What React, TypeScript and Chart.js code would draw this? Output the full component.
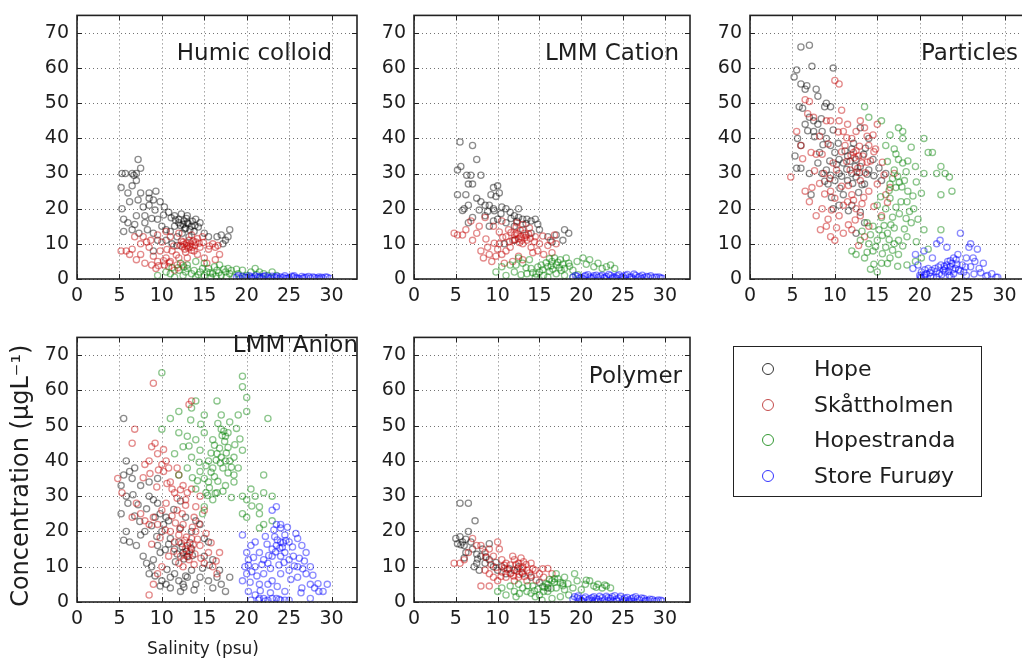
import React, { useEffect, useRef } from 'react';
import { Chart, registerables } from 'chart.js';
Chart.register(...registerables);

type P = [number, number];

const seriesNames = ['Hope', 'Skåttholmen', 'Hopestranda', 'Store Furuøy'];
const seriesColors = ['rgba(0,0,0,0.45)', 'rgba(195,0,0,0.45)', 'rgba(0,128,0,0.45)', 'rgba(0,0,255,0.45)'];
const legendColors = ['rgba(0,0,0,0.8)', 'rgba(180,30,30,0.8)', 'rgba(0,128,0,0.8)', 'rgba(0,0,255,0.8)'];
const xTicks = [0, 5, 10, 15, 20, 25, 30];
const yTicks = [0, 10, 20, 30, 40, 50, 60, 70];
const xMax = 33;
const yMax = 75;
const panelTitles = ['Humic colloid', 'LMM Cation', 'Particles', 'LMM Anion', 'Polymer'];
const xAxisTitle = 'Salinity (psu)';
const yAxisTitle = 'Concentration (µgL⁻¹)';

// ---------- Humic colloid ----------
const humicHope: P[] = [[7.2,34],[5.3,30],[5.7,30],[6.5,30],[7,30],[7.5,31.5],[6.7,29.5],[5.2,26],[6.5,26.5],[7,28],[6,24.5],[7.5,24.5],[8.5,24.5],[9.3,25],[8.5,23],[6.2,22],[5.3,20],[5.5,17],[6,16],[6.8,15.5],[7,18],[7.8,20.5],[8.5,21],[9,22.5],[9.8,22],[10.3,20.5],[10.8,19],[11.5,18],[12,17],[8,16],[8.3,14],[9,13],[9.5,17],[10,15],[10.5,14],[11,13.5],[11.5,15],[12,16],[12.5,15.5],[12.8,14.5],[13,16],[13.5,15],[14,17],[14.5,16],[13.2,12],[12.4,13],[11.2,10],[11.8,9.5],[10.5,11],[9.5,11],[13.8,13.5],[15,13],[15.5,12],[16.5,12],[17,12.5],[17.5,11],[18,14],[17.8,12],[17.2,10],[5.5,13.5],[6.5,14],[7.3,13],[9,8],[13,18],[12.3,18.5],[8,18],[7.2,22.5],[12.6,16.5],[13.3,14],[11.8,12],[12.2,15.2],[12.7,14.2],[13.1,15.8],[13.6,16.4],[12.9,17.2],[11.6,16.8],[14.3,14.8],[10.2,18.2],[9.2,19.6],[8.8,17.2],[11.1,17.4],[13.9,15.2]];
const humicSkat: P[] = [[5.2,8],[5.8,8],[6.2,7],[6.5,8.5],[7,5.5],[7.5,7],[7.8,12],[8.2,10.5],[8.5,9],[8,4.5],[8.8,4],[9,6.5],[9.3,3],[9.5,5],[9.8,8],[10,10.5],[10.3,4],[10.5,6],[10.8,3.5],[11,5],[11.2,8],[11.5,2.5],[11.8,4],[12,6],[12.2,9.5],[12.5,10.5],[12.7,8.5],[13,9.5],[13.2,11],[13.4,10],[13.6,9],[13.8,8],[14,10.5],[14.2,7],[14.5,9],[14.8,12],[15,6],[15.3,4.5],[15.5,8.5],[16,10],[16.3,9],[16.6,9.5],[16.8,7],[16.3,5.5],[13,6],[12.5,4],[12,13],[11,12],[10.5,13.5],[9.5,12.5],[8.7,11],[13.5,12.5],[14.2,11.5],[6.8,12],[7.5,10],[12.9,10.2],[13.1,8.8],[12.4,9.2],[13.7,10.8],[10.9,4.6],[12.6,9.8],[13.3,9.2],[13.9,9.6],[12.3,10.8],[13.5,8.2],[14.4,10.2],[12.8,7.6],[11.7,6.8],[11.4,9.4],[10.6,8.4],[10.2,5.2],[11.9,3.2],[9.6,3.8],[14.9,10.4],[15.6,9.4]];
const humicHopestranda: P[] = [[9.5,1],[10.5,2],[11,1.5],[11.5,0.5],[12,2.5],[12.5,1],[13,3],[13.5,1.5],[14,0.5],[14.5,2],[15,1],[15.5,3],[16,1.5],[16.5,2.5],[17,1],[17.5,2],[18,1.5],[18.5,0.5],[19,1.5],[20,1],[20.5,2],[21,3],[21.5,2],[22,1.5],[22.5,1],[23,2],[23.5,1],[16.8,4],[15,4.5],[14,5],[13,4],[12.2,4.5],[17.8,3],[19.5,2.5],[15.8,0.5],[14.8,3],[16.2,3.5],[17.3,2.8],[16.7,1.8],[18.2,2.4],[12.8,2],[13.8,2.4],[14.3,1.2],[15.3,2],[16.4,0.8],[17.6,0.6],[18.8,2.8],[19.8,0.5],[21.2,1.2],[11.2,3.2],[12.6,3.4],[15.7,1.8]];
const humicStore: P[] = [[18.8,0.5],[19.5,0.8],[20,0.3],[20.5,0.6],[21,0.9],[21.5,0.4],[22,0.7],[22.5,0.5],[23,0.8],[23.5,0.3],[24,0.6],[24.5,0.9],[25,0.4],[25.5,0.6],[26,0.3],[26.5,0.7],[27,0.5],[27.5,0.3],[28,0.4],[28.5,0.6],[29,0.3],[29.5,0.5],[19.2,0.2],[21.8,0.2],[23.8,0.1],[26.2,0.1],[20.8,0.3],[24.8,0.2],[27.8,0.6],[19,0.9],[19.8,0.5],[20.3,0.9],[21.3,0.6],[22.2,0.9],[22.8,0.3],[23.3,0.6],[24.3,0.4],[25.3,0.8],[25.8,0.3],[26.8,0.4],[27.3,0.7],[28.3,0.2],[28.8,0.5],[29.3,0.6],[29.8,0.2],[20.6,0.15],[22.6,0.1],[24.6,0.15],[26.6,0.2],[28.6,0.1],[21.6,0.7],[23.6,0.8],[25.6,0.9]];

// ---------- LMM Cation ----------
const cationHope: P[] = [[5.5,39],[7,38],[7.5,34],[5.2,31],[5.6,32],[6.3,29.5],[6.8,29.5],[8,29.5],[6.5,27],[7,27],[9.5,26],[10,26.5],[9.2,24],[10.2,24.5],[9.8,23.5],[5.2,24],[6.2,24],[7.5,23],[8,22],[6,20],[5.8,19.5],[6.5,21],[8.5,21],[9,21],[9.5,20],[10.5,20.5],[11,20],[11.5,19],[12,18],[12.5,17.5],[13,17],[13.5,17],[14,16.5],[14.5,17],[10,17],[11,16],[12,15],[8.5,18],[9.5,16.5],[13,14],[14,13],[15,14],[16,12],[17,12.5],[18,14],[18.5,13],[17.8,11],[16.5,10.5],[10.8,10],[12,11],[6.5,16],[7,17.5],[12.5,20],[9,15],[11.6,17.2],[12.3,16.4],[13.4,15.8],[10.4,18.6],[9.6,19.4],[7.8,19.6],[8.8,19.2],[14.8,15.6]];
const cationSkat: P[] = [[4.8,13],[5.2,12.5],[5.8,12.5],[6.2,14],[6.8,16.5],[7,11],[7.5,13],[8,8],[8.3,6],[8.8,9],[9,7],[9.3,5],[9.8,6.5],[10,8.5],[10.2,10],[10.5,7],[10.8,4.5],[11,12],[11.3,14],[11.5,9],[11.8,11],[12,12.5],[12.2,13],[12.5,11.5],[12.8,12],[13,10],[13.2,13],[13.5,11],[13.8,14.5],[14,9],[14.2,7.5],[14.5,12],[14.8,8],[15,10],[15.5,7],[16,9.5],[16.3,11],[16.8,12.5],[17,10],[16.5,7.5],[13,5.5],[12.5,6.5],[11.8,5],[9.5,15],[10.5,16.5],[8.5,17.5],[7.8,15],[12.3,16],[13,15.5],[11,8],[12.7,13.8],[13.4,12.4],[12.1,11.2],[12.4,12.8],[12.9,11],[13.3,11.8],[13.7,12.8],[12.6,10.4],[11.6,13.2],[13.9,11.6],[12.2,14.8],[11.4,10.6],[10.6,11.8],[14.4,10.6],[15.4,12.2],[9.6,10.2],[8.6,11.4],[10.2,13.4]];
const cationHopestranda: P[] = [[9.8,2],[10.5,3.5],[11,1],[11.5,4],[12,2],[12.5,6],[13,4.5],[13.5,1.5],[14,3],[14.5,0.5],[15,2],[15.5,1],[16,3.5],[16.5,5],[17,4],[17.5,5.5],[18,3],[18.5,4.5],[19,2.5],[19.5,5],[20.2,6],[21,5.5],[21.5,3.5],[22,4.5],[22.5,3],[23,3.5],[23.5,4],[24,3],[16,0.5],[17,1.5],[18,1],[19,0.5],[15.2,4],[13.8,5.5],[12.2,4],[16.8,6],[18.2,6],[17.4,3.2],[16.2,2.2],[14.6,1.4],[15.8,4.6],[16.4,3.8],[17.2,4.8],[17.8,4.2],[16.6,2.8],[15.4,2.6],[14.8,3.4],[18.6,3.6],[17.6,2.4],[16.2,5.8],[13.4,3.2],[12.8,1.2],[14.2,1.8],[19.6,1.2],[20.6,4.2]];
const cationStore: P[] = [[19,0.5],[19.5,0.8],[20,0.4],[20.5,1],[21,0.6],[21.5,0.9],[22,0.5],[22.5,1.1],[23,0.7],[23.5,1],[24,0.5],[24.5,1.2],[25,0.8],[25.5,1.3],[26,0.6],[26.5,1],[27,0.7],[27.5,0.4],[28,0.6],[28.5,0.3],[29,0.5],[29.5,0.3],[20.2,0.1],[22.8,0.2],[25.2,0.2],[27.2,0.1],[21.2,0.2],[24.2,0.2],[19.3,1],[19.8,0.3],[20.4,0.7],[20.8,1.2],[21.4,0.4],[21.8,1.1],[22.3,0.8],[22.7,0.4],[23.3,1.3],[23.8,0.6],[24.3,0.9],[24.8,0.4],[25.3,1],[25.8,0.5],[26.3,1.4],[26.8,0.5],[27.3,1.1],[27.8,0.7],[28.3,0.9],[28.8,0.5],[29.3,0.6],[29.7,0.2],[26.2,0.1],[23.7,0.15]];

// ---------- Particles ----------
const partHope: P[] = [[6,66],[7,66.5],[7.3,60.5],[5.2,57.5],[5.5,59.5],[6,55.5],[6.7,55],[6.5,54],[7.8,54],[8,52],[5.8,49],[9.8,60],[9,50],[8.8,49],[9.5,49],[8,44],[7,46],[7.5,45],[6.5,44],[5.6,40],[6,38],[5.3,35],[7.5,42],[8.5,42],[9,40],[9.5,38],[10,36],[10.5,34],[11,33],[8,33],[8.5,30],[9,31],[9.5,29.5],[10,28],[9.2,27],[10.5,30],[11.5,35],[12,37],[12.5,34],[13,32],[12,30],[11.5,28],[12.5,29],[13.5,27],[14,31],[14.5,34],[15.5,28],[16,30],[11,24],[10.5,21],[9.8,20],[12,21],[13,19],[13.5,16],[12.5,13],[14,40],[13,43],[7.2,24],[6,31.5],[5.5,31.5],[7,30],[8.2,36],[11.8,33.5],[12.4,32],[12.9,30.2],[11.4,31.2],[13.4,35.5],[12.1,27.2],[10.8,29.2],[9.4,33.6],[8.6,38.2],[13.8,29.8],[7.6,40.5],[8.4,45.6],[9.8,42.4],[10.4,38.6],[11.2,36.4],[10.2,32.6],[8.8,27.8],[9.6,23.2],[11.6,19.4],[12.8,24.6],[13.2,26.8],[14.6,29.4],[15.2,31.6],[6.8,42.2],[6.2,48.6],[10.6,25.8],[12.2,38.6],[13.6,37.2]];
const partSkat: P[] = [[4.8,29],[5.5,42],[6,38],[6.5,51],[7,50.5],[6.8,47],[7.5,46],[7.2,36],[7.8,35.5],[8.5,35.5],[9,45],[9.5,45],[10,56.5],[10.5,55.5],[10.8,48],[10.5,45],[11,42],[11.5,44],[12,40],[12.5,42],[13,45],[13.5,43],[14,38],[14.5,41],[15,44],[14.8,37],[12.2,36],[12.8,35],[13.2,33],[11.8,31],[10.2,31],[9.8,33],[8.7,30],[9.5,25],[10,23],[11,21],[11.5,22],[12,24],[12.5,20],[13,18],[10.5,18],[9.2,17],[8.5,20],[7.8,18],[8.3,14],[9,15],[9.5,12],[10,11],[11,13],[12,14],[12.8,9.5],[13.5,12],[14,15],[15,27],[16,24],[15.5,18],[16.5,26],[17,30],[13,28],[14,25],[7.3,26],[7,22],[6.5,25],[12.3,34.5],[12.7,31.5],[11.2,38],[12.5,36.5],[12.9,37.8],[13.3,35],[11.9,35.2],[12.6,30.4],[13.6,30.2],[11.6,26.6],[12.2,22.4],[13.4,23.2],[10.8,26.4],[14.2,33.6],[9.4,28.6],[8.2,27.2],[11.4,40.2],[8.2,40.6],[9.2,38.4],[10.4,41.8],[10.8,36.2],[11.4,33.4],[13.8,40.6],[14.6,36.2],[15.6,33.2],[13.2,21.4],[12.4,16.8],[11.6,15.4],[10.2,14.6],[9.6,19.6],[8.8,24.2],[14.6,20.6],[15.8,29.6],[16.2,21.8],[7.6,30.8],[6.2,34.2],[13.8,33.2]];
const partHopestranda: P[] = [[13.5,49],[14,46],[15.5,45],[17.5,43],[18,40],[18,42],[16.5,41],[16,38],[17,37],[19,37.5],[20.5,40],[21.5,36],[21,36],[22.5,32],[23,30],[23.5,29],[23.8,25],[22.5,24],[22,30],[20.5,30],[19.5,32],[18,33],[17.5,34],[17,31],[16.5,27],[17.2,26],[18.2,28],[18.5,22],[19.3,20],[18.6,25],[17.8,22],[16.5,23],[16,20],[15.5,17.5],[15,21],[14.5,15],[15.2,14],[16.2,13],[17,14.5],[17.5,11],[18.5,12],[19,16],[19.8,17],[20.5,14],[21,8.5],[22.5,14],[20.2,6],[19.5,5],[18.5,4],[17.5,7],[16.5,6],[15.5,4.5],[15,2],[14.5,8],[14,10],[13.5,6],[13,11],[12.5,7],[16,9],[17,10],[12,8],[15,11],[13.8,16],[17.6,27.5],[18.4,30.5],[16.8,28.6],[17.4,29.2],[17.9,26.2],[16.4,25.2],[18.8,19.2],[15.8,15.2],[16.8,17.6],[14.8,9.2],[15.6,7.2],[16.4,11.2],[13.8,7.6],[14.6,4.2],[17.6,18.6],[18.2,14.2],[15.4,23.4],[16.2,33.4],[17.2,35.6],[18.6,33.6],[19.6,27.6],[20.2,24.4],[19.2,23.6],[18.4,17.2],[17.2,20.4],[16.6,15.4],[15.6,12.4],[14.2,12.6],[13.2,13.6],[16.8,8.2],[18,9.4],[19.6,10.6],[14.2,2.8],[16.2,4.4],[17.4,3.6]];
const partStore: P[] = [[19.2,3],[19.5,7],[20,1],[20.2,2],[20.5,0.5],[20.8,1.5],[21,3],[21.3,0.8],[21.5,6],[22,10],[22.3,1.5],[22.5,4],[22.8,2.5],[23,3],[23.3,5],[23.5,1],[23.8,4.5],[24,6],[24.2,3],[24.5,7],[24.8,13],[25,4],[25.2,2],[25.5,1],[25.8,9],[26,10],[26.3,6],[26.5,5],[26.8,8.5],[27,3],[27.5,4.5],[28,1],[28.5,1.5],[29,0.5],[29.2,0.5],[24,1.5],[23,2],[22,0.5],[21.8,3],[24.3,5.5],[23.6,3.5],[22.4,11],[23.2,9],[20.5,8],[19.8,4],[25.5,6],[26,3.5],[27.8,0.8],[20.1,0.6],[20.6,1.2],[23.4,2.2],[24.6,2.6],[20.2,0.3],[20.6,2.6],[21.2,1.8],[21.6,0.4],[22,2.2],[22.6,1.2],[23.2,4],[23.6,5.2],[23.9,2.6],[24.4,4.2],[22.9,3.6],[23.7,0.6],[21.4,2.4],[22.2,3.4],[24.8,2.2],[25.4,3.4],[26.4,1.4],[27.2,1.8]];

// ---------- LMM Anion ----------
const anionHope: P[] = [[5.5,52],[5.8,40],[6.2,37],[6.8,38],[6.5,35],[5.5,36],[5.2,33],[5.8,30],[6,28],[5.2,25],[5.8,20],[6.2,17],[5.5,17.5],[7,16],[7.5,19],[8,20],[7.8,13],[8.2,11],[8.5,8],[8.8,10],[9,12],[9.5,16],[9.8,14],[10,20],[9.2,24],[9.8,25],[10.5,24],[9,29],[9.5,28],[10.2,22],[10.8,23],[11,18],[11.5,15],[12,17],[12.5,14],[13,13],[13.5,15],[12.2,21],[12.8,24],[13.5,20],[14,23],[14.5,22],[15,18],[15.5,17],[8.5,30],[7.5,33],[8.5,34],[9.5,35],[10,6],[10.5,5],[11,7],[11.5,8],[12,6],[12.5,5],[13,7],[13.5,9],[14,5],[14.5,7],[15.5,6],[16,4],[16.5,7],[17,5],[17.5,3],[18,7],[11,4],[12.2,3],[9.8,4.5],[16.8,9],[16,12],[15,13],[12.4,15.6],[12.9,14.4],[13.3,16.8],[12.6,12.2],[11.8,13.6],[13.6,13.2],[10.4,14.8],[9.4,18.6],[10.6,9.2],[12.8,7.4],[6.6,30.4],[7.2,27.6],[8.2,26.4],[8.8,21.6],[7.4,22.8],[6.8,24.4],[10.8,16.4],[11.6,11.4],[9.2,7.4],[12.6,4.2],[13.8,3.4],[14.8,9.6],[15.6,10.4],[11.4,26.2],[12.2,28.6]];
const anionSkat: P[] = [[4.8,35],[5.3,31],[6.5,45],[6.8,49],[8,39],[8.5,40],[8.8,44],[9,62],[9.2,45],[9.5,42],[10,39],[10.2,37],[10.5,40],[10.8,38],[11,34],[11.5,31],[11.8,38],[12,36],[12.5,33],[12.8,29],[13,31],[13.5,32],[13.2,56],[13.5,57],[11.2,32],[10.5,28],[10,26],[9.5,22],[9,24],[8.5,22],[8,23],[7.5,25],[7,28],[6.5,24],[11,20],[11.5,17],[12,19],[12.2,13],[12.8,15],[13,16],[13.2,12],[13.5,18],[14,20],[14.5,16],[15,11],[15.5,14],[16,10],[16.5,8],[16.8,14],[14,27],[14.5,30],[15,26],[12.5,22],[13.8,24],[11.8,26],[10.8,13],[10,10],[9.5,8],[8.5,2],[9,5],[12.5,10],[12,11],[12.7,17.5],[13.3,14.2],[12.4,25],[12.6,13.4],[13.1,12.8],[13.4,15.4],[12.9,18.4],[12.3,16.6],[13.7,16.2],[14.2,17.8],[13.9,13.6],[12.1,20.6],[11.6,22.4],[13.6,21.2],[12.8,27.4],[14.4,22.2],[15.2,19.4],[11.2,24.4],[7.8,35.2],[8.6,36.4],[9.4,32.6],[10.6,33.6],[11.8,29.4],[12.2,31.8],[10.4,20.4],[9.8,18.2],[8.8,16.4],[14.6,12.4],[13.8,10.6],[15.8,16.8],[16.4,11.6],[11.4,14.4],[10.2,43.2],[9.6,37.4]];
const anionHopestranda: P[] = [[10,65],[19.5,64],[19.5,61],[20,58],[14,57],[13.5,55],[12,54],[11,52],[10,49],[15,53],[16.5,57],[17,53],[18,51],[19,53],[20,54],[22.5,52],[17,49],[17.5,47],[17.8,48],[16,46],[15,48],[14,46],[13,47],[12,48],[12.5,44],[11.5,42],[13.5,41],[14.5,43],[15.5,40],[16.5,42],[17,41],[17.5,40],[18,40],[18.5,41],[19,38],[19.5,43],[18.5,36],[17.2,38],[16,38],[15,35],[14.5,37],[14,32],[15.2,31],[16.5,31],[17.5,33],[18.5,34],[16,29],[15,27],[14.8,25],[19.5,30],[20,29],[20.5,32],[21,30],[21.5,27],[22,31],[22,36],[23,30],[21.5,25],[20,24],[21.5,21],[22,22],[23,23],[19.5,25],[12,36],[13,38],[15.5,34],[16.2,35.5],[17.4,45.5],[17.1,47.2],[17.3,48.4],[16.8,43.6],[17.6,42.2],[16.4,40.2],[15.8,36.8],[16.6,34.2],[17.8,36.6],[15.4,30.2],[16.3,30.8],[18.2,38.2],[14.4,39.6],[13.2,44.2],[16.9,39.4],[15.6,32.4],[13.6,35.2],[14.2,34.4],[15.2,38.6],[16.2,44.4],[18.6,44.6],[19.2,46.2],[18.8,49.2],[14.6,50.4],[13.4,51.6],[16.6,50.6],[15.8,42.2],[17.8,43.8],[18.2,29.6],[17.2,31.4],[20.6,27.2]];
const anionStore: P[] = [[19.5,19],[19.8,10],[20,8],[20.2,12],[20,14],[20.5,16],[21,17],[21,10],[21.5,5],[21,2],[20.5,0.5],[21.5,1],[22,1],[22.5,0.5],[23,1],[23.5,1],[24,0.5],[24.5,0.5],[25,0.5],[22,12],[22.5,11],[23,15],[23.5,16],[24,17],[24.5,19],[24,21],[23.5,22],[23,26],[23.5,27],[24,22],[24.5,14],[25,12],[25.5,13],[26,18],[26.5,16],[27,14],[27.5,10],[27,8],[26,7],[26.5,4],[27.5,5],[28,4],[28.5,3],[29,3],[29.5,5],[27.5,1],[26,10],[25,9],[24,8],[23,6],[22.5,5],[22,8],[21.5,14],[23,13],[24,13],[25,17],[19.5,6],[20.2,3],[22.8,9.5],[24.5,3],[23.8,10.5],[23.3,18.5],[24.2,15.5],[23.6,17.6],[23.9,15.2],[24.3,16.8],[23.4,14.2],[24.6,17.4],[24.8,21.2],[23.2,20.4],[22.6,13.2],[20.2,10.4],[20.6,8.6],[20.8,12.6],[21.4,0.6],[22.2,0.3],[23.8,0.8],[26.2,12.4],[25.6,10.2],[26.8,11.6],[20.4,5.6],[21.2,7.4],[21.8,10.6],[22.4,16.4],[22.2,18.6],[24.4,11.2],[25.4,15.6],[25.8,19.4],[26.6,9.4],[27.8,7.6],[28.4,5.2],[21.6,3.2],[22.8,2.6],[23.6,4.4],[25.2,6.4],[26.4,2.6]];

// ---------- Polymer ----------
const polyHope: P[] = [[5.5,28],[6.5,28],[7.3,23],[6.5,20],[5.5,18.5],[5.2,16.5],[5.8,17],[6,16],[6.2,14],[6.8,17],[7,15],[7.5,13.5],[8,13],[7.5,11],[7.2,10],[8.5,11],[9,12],[9.5,10],[10,9],[10.5,10],[11,8],[12,9],[12.5,10],[13,8],[14,7],[15,5.5],[16,4],[8.2,15],[9,16.5],[7.8,9],[6,12.5],[5,18],[6.2,17.8],[5.6,16.2],[7.6,12.2],[8.6,12.8],[9.8,11.2],[11.4,9.4]];
const polySkat: P[] = [[4.8,11],[5.5,11],[6,12],[6.5,14],[7,18],[7.5,16],[8,16],[8.5,14],[9,15],[9.5,13],[10,17],[10.2,15],[10.5,12],[11,11],[11.5,10.5],[12,12],[12.5,11],[13,10],[13.5,9],[14,11],[14.5,9],[15,8],[15.5,7],[16,9.5],[16.5,8],[11,7],[11.5,8],[12,6],[12.5,7],[13,9.5],[13.5,6],[14,7.5],[8.5,9],[9,8],[9.5,7],[10,6],[10.5,8.5],[8,4.5],[9,4.5],[12.8,12.5],[11.8,13],[12.3,8.8],[13.2,7.2],[10.8,9.6],[11.2,9.2],[11.6,8.2],[12.4,9.6],[12.9,8.4],[13.4,10.6],[13.8,8.2],[12.2,10.6],[10.8,10.4],[9.8,9.8],[10.4,7.2],[14.6,6.2],[15.4,9.4],[11.9,7.4],[13.1,11.4],[9.2,10.6],[8.6,12.6],[12.6,7.8],[14.2,9.4]];
const polyHopestranda: P[] = [[10,3],[10.5,4],[11,2],[11.5,4.5],[12,3],[12.5,5],[13,4],[13.5,3],[14,2.5],[14.5,1.5],[15,2],[15.5,3],[16,5],[16.5,6],[17,4],[17.5,5.5],[18,3.5],[18.5,2],[19,4],[19.5,6],[20,3.5],[20.5,5],[21,6],[21.5,4.5],[22,5],[22.5,4],[23,4.5],[23.5,4],[18,7],[19.2,8],[17,8],[16,3],[15.3,0.5],[14.2,4.5],[12.2,1.5],[17.5,1.5],[16.5,1],[16.8,6.6],[17.8,5.2],[15.6,4.2],[15.8,5.2],[16.2,6.4],[16.8,5.6],[17.2,6.6],[17.8,4.6],[15.4,4.4],[14.8,3.6],[16.4,3.8],[18.4,5.2],[14.4,3.2],[13.6,4.6],[12.6,2.4],[20.6,6.2],[21.8,4.2],[22.8,4.8]];
const polyStore: P[] = [[19,0.8],[19.5,1.2],[20,0.5],[20.5,1.4],[21,0.9],[21.5,1.5],[22,0.7],[22.5,1.2],[23,1.6],[23.5,1],[24,1.8],[24.5,1.1],[25,0.7],[25.5,1.3],[26,0.9],[26.5,1.5],[27,0.6],[27.5,1],[28,0.4],[28.5,0.7],[29,0.3],[29.5,0.5],[20.2,0.2],[22.3,0.2],[24.3,0.3],[26.3,0.2],[19.6,1.7],[21.3,0.4],[23.3,0.4],[25.3,0.3],[19.2,1.5],[19.8,0.9],[20.3,1],[20.8,0.6],[21.3,1.2],[21.8,0.9],[22.2,1.6],[22.8,0.6],[23.2,1.2],[23.7,1.5],[24.2,0.8],[24.7,1.6],[25.2,1.1],[25.7,0.6],[26.2,1.2],[26.7,0.9],[27.2,1.1],[27.7,0.5],[28.2,0.8],[28.7,0.3],[29.2,0.6],[29.7,0.3],[21.6,0.3],[23.8,0.3],[25.8,0.2],[27.6,0.2]];

const panelData: P[][][] = [
  [humicHope, humicSkat, humicHopestranda, humicStore],
  [cationHope, cationSkat, cationHopestranda, cationStore],
  [partHope, partSkat, partHopestranda, partStore],
  [anionHope, anionSkat, anionHopestranda, anionStore],
  [polyHope, polySkat, polyHopestranda, polyStore],
];

// ---------- layout (pixels) ----------
const layouts = [
  { left: 77, top: 11, width: 280, height: 268, tdx: -25, tdy: 45, axisTitles: false },
  { left: 414, top: 11, width: 276, height: 268, tdx: -11, tdy: 45, axisTitles: false },
  { left: 750, top: 11, width: 280, height: 268, tdx: -12, tdy: 45, axisTitles: false },
  { left: 77, top: 333, width: 280, height: 269, tdx: 1, tdy: 15, axisTitles: true },
  { left: 414, top: 333, width: 276, height: 269, tdx: -8, tdy: 46, axisTitles: false },
];
const PAD_L = 72, PAD_T = 15, PAD_R = 12, PAD_B = 56;
const FONT = '"DejaVu Sans", sans-serif';
const TEXT = '#1e1e1e';

const framePlugin = {
  id: 'frame',
  beforeDatasetsDraw(chart: any) {
    const { ctx, chartArea: a, scales } = chart;
    ctx.save();
    ctx.strokeStyle = 'rgba(0,0,0,0.55)';
    ctx.lineWidth = 1;
    ctx.setLineDash([1, 3]);
    xTicks.forEach((v) => {
      const px = Math.round(scales.x.getPixelForValue(v)) + 0.5;
      ctx.beginPath(); ctx.moveTo(px, a.top); ctx.lineTo(px, a.bottom); ctx.stroke();
    });
    yTicks.forEach((v) => {
      const py = Math.round(scales.y.getPixelForValue(v)) + 0.5;
      ctx.beginPath(); ctx.moveTo(a.left, py); ctx.lineTo(a.right, py); ctx.stroke();
    });
    ctx.restore();
  },
  afterDraw(chart: any, _args: any, opts: any) {
    const { ctx, chartArea: a, scales } = chart;
    ctx.save();
    ctx.strokeStyle = '#222';
    ctx.lineWidth = 1;
    const line = (x1: number, y1: number, x2: number, y2: number) => {
      ctx.beginPath(); ctx.moveTo(x1, y1); ctx.lineTo(x2, y2); ctx.stroke();
    };
    xTicks.forEach((v) => {
      const px = Math.round(scales.x.getPixelForValue(v)) + 0.5;
      line(px, a.bottom, px, a.bottom - 5);
      line(px, a.top, px, a.top + 5);
    });
    yTicks.forEach((v) => {
      const py = Math.round(scales.y.getPixelForValue(v)) + 0.5;
      line(a.left, py, a.left + 5, py);
      line(a.right, py, a.right - 5, py);
    });
    ctx.lineWidth = 1.6;
    ctx.strokeRect(a.left, a.top, a.right - a.left, a.bottom - a.top);
    ctx.fillStyle = TEXT;
    ctx.font = `23px ${FONT}`;
    ctx.textAlign = 'right';
    ctx.textBaseline = 'alphabetic';
    ctx.fillText(opts.title, a.right + opts.tdx, a.top + opts.tdy);
    if (opts.axisTitles) {
      ctx.font = `17px ${FONT}`;
      ctx.textAlign = 'center';
      ctx.fillText(xAxisTitle, (a.left + a.right) / 2 - 14, a.bottom + 52);
      ctx.save();
      ctx.translate(a.left - 55, (a.top + a.bottom) / 2 + 6);
      ctx.rotate(-Math.PI / 2);
      ctx.font = `24px ${FONT}`;
      ctx.textBaseline = 'middle';
      ctx.fillText(yAxisTitle, 0, 0);
      ctx.restore();
    }
    ctx.restore();
  },
};

function Panel({ idx }: { idx: number }) {
  const ref = useRef<HTMLCanvasElement>(null);
  const lay = layouts[idx];
  useEffect(() => {
    if (!ref.current) return;
    const chart = new Chart(ref.current, {
      type: 'scatter',
      data: {
        datasets: panelData[idx].map((pts, i) => ({
          label: seriesNames[i],
          data: pts.map(([x, y]) => ({ x, y })),
          order: 3 - i,
          pointStyle: 'circle',
          pointRadius: 3.1,
          pointHoverRadius: 3.1,
          pointBorderWidth: 1.3,
          pointBackgroundColor: 'rgba(0,0,0,0)',
          pointBorderColor: seriesColors[i],
        })),
      },
      options: {
        responsive: false,
        animation: false,
        events: [],
        layout: { padding: { left: 0, top: PAD_T, right: PAD_R, bottom: 0 } },
        plugins: {
          legend: { display: false },
          tooltip: { enabled: false },
          frame: { title: panelTitles[idx], tdx: lay.tdx, tdy: lay.tdy, axisTitles: lay.axisTitles },
        } as any,
        scales: {
          x: {
            type: 'linear',
            min: 0,
            max: xMax,
            grid: { display: false, drawTicks: false, tickLength: 0 },
            border: { display: false },
            afterBuildTicks: (s: any) => { s.ticks = xTicks.map((v) => ({ value: v })); },
            afterFit: (s: any) => { s.height = PAD_B; },
            ticks: { font: { family: FONT, size: 19 }, color: TEXT, padding: 6, maxRotation: 0, autoSkip: false },
          },
          y: {
            type: 'linear',
            min: 0,
            max: yMax,
            grid: { display: false, drawTicks: false, tickLength: 0 },
            border: { display: false },
            afterBuildTicks: (s: any) => { s.ticks = yTicks.map((v) => ({ value: v })); },
            afterFit: (s: any) => { s.width = PAD_L; },
            ticks: { font: { family: FONT, size: 19 }, color: TEXT, padding: 8, autoSkip: false },
          },
        },
      } as any,
      plugins: [framePlugin],
    });
    return () => chart.destroy();
  }, [idx]);
  return (
    <canvas
      ref={ref}
      width={lay.width + PAD_L + PAD_R}
      height={lay.height + PAD_T + PAD_B}
      style={{ position: 'absolute', left: lay.left - PAD_L, top: lay.top - PAD_T }}
    />
  );
}

function Legend() {
  return (
    <div
      style={{
        position: 'absolute', left: 733, top: 346, width: 249, height: 151,
        border: '1.6px solid #222', boxSizing: 'border-box', background: '#fff',
      }}
    >
      {seriesNames.map((name, i) => (
        <div key={name} style={{ position: 'absolute', left: 0, top: 22 + i * 35.7 - 15, height: 30, width: '100%' }}>
          <div
            style={{
              position: 'absolute', left: 28, top: 9, width: 12, height: 12, borderRadius: '50%',
              border: `1.5px solid ${legendColors[i]}`, boxSizing: 'border-box',
            }}
          />
          <div
            style={{
              position: 'absolute', left: 80, top: 0, lineHeight: '30px', fontSize: 22,
              fontFamily: FONT, color: TEXT, whiteSpace: 'nowrap',
            }}
          >
            {name}
          </div>
        </div>
      ))}
    </div>
  );
}

export default function App() {
  return (
    <div style={{ position: 'fixed', left: 0, top: 0, width: 1022, height: 658, overflow: 'hidden', background: '#fff' }}>
      {[0, 1, 2, 3, 4].map((i) => (
        <Panel key={i} idx={i} />
      ))}
      <Legend />
    </div>
  );
}
